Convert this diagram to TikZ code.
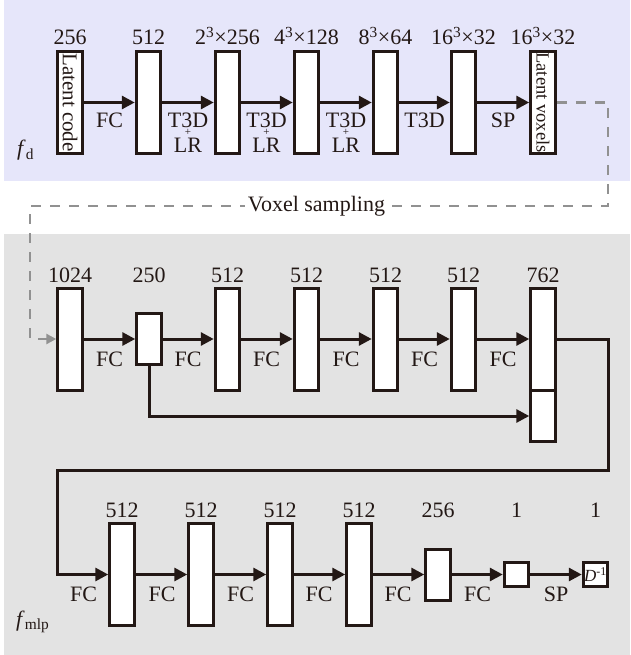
\documentclass[tikz,border=0pt]{standalone}
\usepackage{fontspec}
\setmainfont{Liberation Serif}
\usetikzlibrary{arrows.meta}
\definecolor{ink}{RGB}{35,24,21}
\definecolor{lav}{RGB}{230,230,250}
\definecolor{panelgray}{RGB}{227,227,227}
\definecolor{dashgray}{RGB}{145,145,145}
\begin{document}
\begin{tikzpicture}[x=1pt,y=-1pt,
  blk/.style={draw=ink, fill=white, line width=3pt, inner sep=0pt, minimum width=24.5pt, minimum height=102pt},
  lbl/.style={font=\fontsize{22}{26}\selectfont, text=ink, anchor=base, inner sep=0pt},
  plus/.style={font=\fontsize{11}{12}\selectfont, text=ink, inner sep=0pt},
  arr/.style={draw=ink, line width=3pt, -{Triangle[length=13pt,width=13pt]}},
  dsh/.style={draw=dashgray, line width=2.5pt, dash pattern=on 10pt off 9pt, -{Triangle[length=10pt,width=10pt,fill=dashgray]}},
]
\useasboundingbox (0,0) rectangle (630,655);
\fill[white] (0,0) rectangle (630,655);
\fill[lav] (4,0) rectangle (630,181);
\fill[panelgray] (4,234) rectangle (630,655);

% ---------- top row (f_d) ----------
\node[blk] (t1) at (70,102.5) {};
\node[blk] (t2) at (148.5,102.5) {};
\node[blk] (t3) at (227.5,102.5) {};
\node[blk] (t4) at (306.5,102.5) {};
\node[blk] (t5) at (385.5,102.5) {};
\node[blk] (t6) at (463.5,102.5) {};
\node[blk] (t7) at (543,102.5) {};
\node[rotate=-90, font=\fontsize{21}{24}\selectfont, text=ink, inner sep=0pt] (t1txt) at (t1.center) {Latent code};
\node[rotate=-90, font=\fontsize{18.5}{22}\selectfont, text=ink, inner sep=0pt] (t7txt) at (t7.center) {Latent voxels};

\node[lbl] (tl1) at (70,45) {256};
\node[lbl] (tl2) at (148.5,45) {512};
\node[lbl] (tl3) at (227.5,45) {2\textsuperscript{3}×256};
\node[lbl] (tl4) at (306.5,45) {4\textsuperscript{3}×128};
\node[lbl] (tl5) at (385.5,45) {8\textsuperscript{3}×64};
\node[lbl] (tl6) at (463.5,45) {16\textsuperscript{3}×32};
\node[lbl] (tl7) at (543,45) {16\textsuperscript{3}×32};

\draw[arr] (t1.east) -- (t2.west);
\draw[arr] (t2.east) -- (t3.west);
\draw[arr] (t3.east) -- (t4.west);
\draw[arr] (t4.east) -- (t5.west);
\draw[arr] (t5.east) -- (t6.west);
\draw[arr] (t6.east) -- (t7.west);

\node[lbl] (ta1) at (109.5,128) {FC};
\node[lbl] (ta2) at (188,128) {T3D};
\node[plus] (tp2) at (188,132.5) {+};
\node[lbl] (tb2) at (188,153) {LR};
\node[lbl] (ta3) at (266.5,128) {T3D};
\node[plus] (tp3) at (266.5,132.5) {+};
\node[lbl] (tb3) at (266.5,153) {LR};
\node[lbl] (ta4) at (346,128) {T3D};
\node[plus] (tp4) at (346,132.5) {+};
\node[lbl] (tb4) at (346,153) {LR};
\node[lbl] (ta5) at (424.5,128) {T3D};
\node[lbl] (ta6) at (503,128) {SP};

\node[lbl, anchor=base west] (fd) at (17,156) {\textit{f}\textsubscript{d}};

% ---------- middle row ----------
\node[blk] (m1) at (70,339) {};
\node[blk, minimum height=51pt] (m2) at (149,339) {};
\node[blk] (m3) at (227.5,339) {};
\node[blk] (m4) at (306.5,339) {};
\node[blk] (m5) at (385.5,339) {};
\node[blk] (m6) at (463.5,339) {};
\node[blk] (m7) at (543,339) {};
\node[blk, minimum height=51pt] (m7b) at (543,416) {};

\node[lbl] (ml1) at (70,282) {1024};
\node[lbl] (ml2) at (149,282) {250};
\node[lbl] (ml3) at (227.5,282) {512};
\node[lbl] (ml4) at (306.5,282) {512};
\node[lbl] (ml5) at (385.5,282) {512};
\node[lbl] (ml6) at (463.5,282) {512};
\node[lbl] (ml7) at (543,282) {762};

\draw[arr] (m1.east) -- (m2.west);
\draw[arr] (m2.east) -- (m3.west);
\draw[arr] (m3.east) -- (m4.west);
\draw[arr] (m4.east) -- (m5.west);
\draw[arr] (m5.east) -- (m6.west);
\draw[arr] (m6.east) -- (m7.west);
\draw[arr] (m2.south) |- (m7b.west);

\node[lbl] (ma1) at (109.5,366) {FC};
\node[lbl] (ma2) at (188,366) {FC};
\node[lbl] (ma3) at (266.5,366) {FC};
\node[lbl] (ma4) at (346,366) {FC};
\node[lbl] (ma5) at (424.5,366) {FC};
\node[lbl] (ma6) at (503,366) {FC};

% ---------- bottom row (f_mlp) ----------
\node[blk] (b1) at (122,574.5) {};
\node[blk] (b2) at (201,574.5) {};
\node[blk] (b3) at (280,574.5) {};
\node[blk] (b4) at (359,574.5) {};
\node[blk, minimum height=51pt] (b5) at (438,574.5) {};
\node[blk, minimum height=24.5pt] (b6) at (516.5,574.5) {};
\node[blk, minimum height=24.5pt] (b7) at (595.5,574.5) {};
\node[font=\fontsize{17}{20}\selectfont, text=ink, inner sep=0pt] (b7txt) at (b7.center) {\textit{D}\textsuperscript{-1}};

\node[lbl] (bl1) at (122,517) {512};
\node[lbl] (bl2) at (201,517) {512};
\node[lbl] (bl3) at (280,517) {512};
\node[lbl] (bl4) at (359,517) {512};
\node[lbl] (bl5) at (438,517) {256};
\node[lbl] (bl6) at (516.5,517) {1};
\node[lbl] (bl7) at (595.5,517) {1};

\coordinate (c1) at (608,470);
\coordinate (c2) at (57,470);
\draw[arr] (m7.east) -| (c1) -- (c2) |- (b1.west);
\draw[arr] (b1.east) -- (b2.west);
\draw[arr] (b2.east) -- (b3.west);
\draw[arr] (b3.east) -- (b4.west);
\draw[arr] (b4.east) -- (b5.west);
\draw[arr] (b5.east) -- (b6.west);
\draw[arr] (b6.east) -- (b7.west);

\node[lbl] (ba0) at (83.5,601) {FC};
\node[lbl] (ba1) at (162,601) {FC};
\node[lbl] (ba2) at (240.5,601) {FC};
\node[lbl] (ba3) at (319,601) {FC};
\node[lbl] (ba4) at (398,601) {FC};
\node[lbl] (ba5) at (477.5,601) {FC};
\node[lbl] (ba6) at (556,601) {SP};

\node[lbl, anchor=base west] (fmlp) at (16,626) {\textit{f}\textsubscript{mlp}};

% ---------- voxel sampling connector ----------
\coordinate (d1) at (608,206);
\coordinate (d2) at (30,206);
\draw[dsh] (t7.east) -| (d1) -- (d2) |- (m1.west);
\node[lbl, fill=white, inner xsep=3pt, inner ysep=2pt] (vs) at (316.5,211) {Voxel sampling};
\end{tikzpicture}
\end{document}
